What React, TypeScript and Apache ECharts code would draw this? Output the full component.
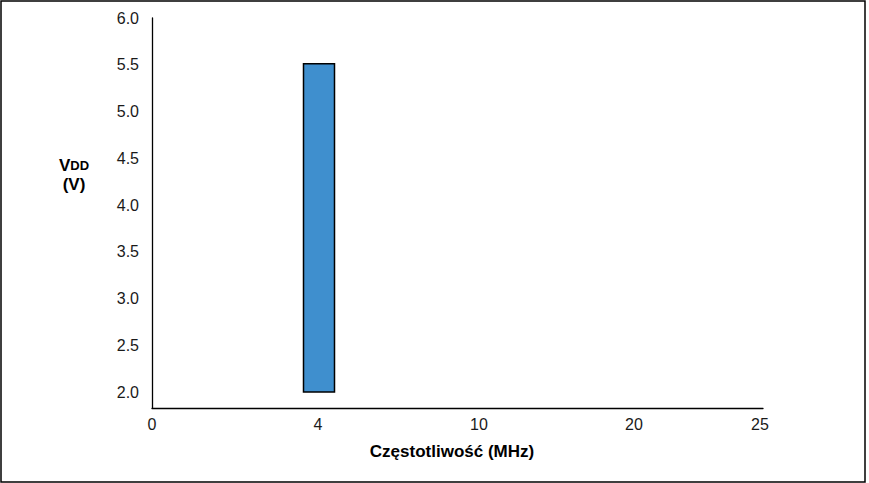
import React, { useEffect, useRef } from "react";
import * as echarts from "echarts";

// Data
const FREQ_TICKS = [0, 4, 10, 20, 25]; // MHz tick labels
const VOLTAGE_TICKS = [2.0, 2.5, 3.0, 3.5, 4.0, 4.5, 5.0, 5.5, 6.0];
const BAR_FREQ = [4]; // MHz
const BAR_VDD_LOW = [2.0]; // V
const BAR_VDD_HIGH = [5.5]; // V

// Layout of the non-uniform frequency axis (axis units from origin)
const FREQ_AXIS_OFFSETS = [0, 166, 327, 482, 608];
const FREQ_AXIS_MAX = 611;

function warp(f: number): number {
  for (let i = 0; i < FREQ_TICKS.length - 1; i++) {
    const a = FREQ_TICKS[i], b = FREQ_TICKS[i + 1];
    if (f >= a && f <= b) {
      const t = (f - a) / (b - a);
      return FREQ_AXIS_OFFSETS[i] + t * (FREQ_AXIS_OFFSETS[i + 1] - FREQ_AXIS_OFFSETS[i]);
    }
  }
  return f <= 0 ? 0 : FREQ_AXIS_MAX;
}

const FONT = "'Liberation Sans', Arial, sans-serif";

export default function App() {
  const ref = useRef<HTMLDivElement>(null);
  useEffect(() => {
    if (!ref.current) return;
    const chart = echarts.init(ref.current, undefined, { renderer: "svg" });
    const barData = BAR_FREQ.map((f, i) => [warp(f), BAR_VDD_LOW[i], BAR_VDD_HIGH[i]]);
    chart.setOption({
      animation: false,
      backgroundColor: "#ffffff",
      grid: { left: 152, right: 106, top: 18, bottom: 75 },
      xAxis: {
        type: "value",
        min: 0,
        max: FREQ_AXIS_MAX,
        axisLine: { show: true, lineStyle: { color: "#000", width: 1.3 } },
        axisTick: { show: false },
        splitLine: { show: false },
        axisLabel: {
          customValues: FREQ_TICKS.map((f) => warp(f)),
          formatter: (v: number) => {
            const idx = FREQ_AXIS_OFFSETS.findIndex((o) => Math.abs(o - v) < 0.5);
            return idx >= 0 ? String(FREQ_TICKS[idx]) : "";
          },
          color: "#1a1a1a",
          fontSize: 16,
          fontFamily: FONT,
          margin: 8,
        },
      },
      yAxis: {
        type: "value",
        min: 1.83,
        max: 6.0,
        axisLine: { show: true, lineStyle: { color: "#000", width: 1.3 } },
        axisTick: { show: false },
        splitLine: { show: false },
        axisLabel: {
          customValues: VOLTAGE_TICKS,
          formatter: (v: number) => v.toFixed(1),
          color: "#1a1a1a",
          fontSize: 16,
          fontFamily: FONT,
          margin: 13,
        },
      },
      series: [
        {
          type: "custom",
          data: barData,
          renderItem: (params: any, api: any) => {
            const x = api.value(0);
            const top = api.coord([x, api.value(2)]);
            const bottom = api.coord([x, api.value(1)]);
            const w = 31;
            return {
              type: "rect",
              shape: { x: top[0] - w / 2 + 1, y: top[1] - 1, width: w, height: bottom[1] - top[1] + 1 },
              style: { fill: "#3f8fce", stroke: "#000", lineWidth: 1.5 },
            };
          },
        },
      ],
      graphic: [
        {
          type: "rect",
          shape: { x: 1, y: 1, width: 864, height: 481 },
          style: { fill: "none", stroke: "#000", lineWidth: 1.5 },
          silent: true,
        },
        {
          type: "text",
          x: 74,
          y: 175,
          style: {
            text: "{v|V}{d|DD}\n{p|(V)}",
            align: "center",
            verticalAlign: "middle",
            rich: {
              v: { fontSize: 17, fontWeight: "bold", fontFamily: FONT, fill: "#000", lineHeight: 19 },
              d: { fontSize: 13, fontWeight: "bold", fontFamily: FONT, fill: "#000", lineHeight: 19 },
              p: { fontSize: 17, fontWeight: "bold", fontFamily: FONT, fill: "#000", lineHeight: 19 },
            },
          },
        },
        {
          type: "text",
          x: 452,
          y: 451,
          style: {
            text: "Częstotliwość (MHz)",
            align: "center",
            verticalAlign: "middle",
            fontSize: 17,
            fontWeight: "bold",
            fontFamily: FONT,
            fill: "#000",
          },
        },
      ],
    });
    return () => chart.dispose();
  }, []);
  return (
    <div
      ref={ref}
      style={{ position: "absolute", left: 0, top: 0, width: 869, height: 483 }}
    />
  );
}
